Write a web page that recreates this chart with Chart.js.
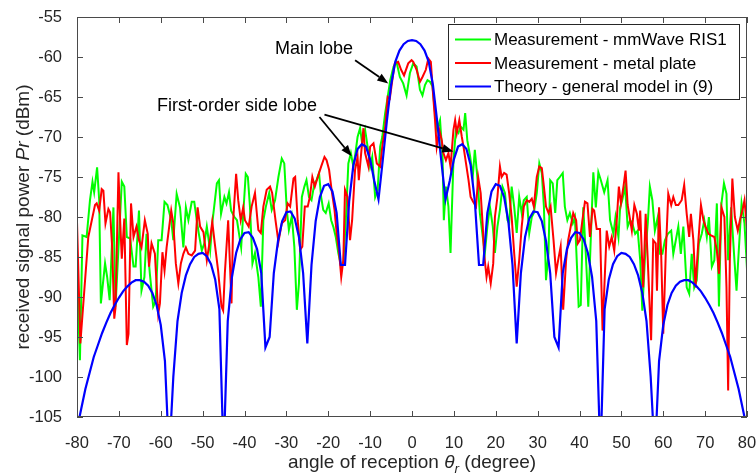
<!DOCTYPE html>
<html><head><meta charset="utf-8">
<script src="https://cdn.jsdelivr.net/npm/chart.js@4.4.0/dist/chart.umd.min.js"></script>
<style>html,body{margin:0;padding:0;background:#fff;}</style>
</head><body>
<canvas id="c" width="756" height="476" style="display:block;width:756px;height:476px"></canvas>
<script>
// ---------- DATA ----------
const seriesLabels = ['Measurement - mmWave RIS1', 'Measurement - metal plate', 'Theory - general model in (9)'];
const xTickValues = [-80,-70,-60,-50,-40,-30,-20,-10,0,10,20,30,40,50,60,70,80];
const yTickValues = [-105,-100,-95,-90,-85,-80,-75,-70,-65,-60,-55];

const ris1Angle = [-80,-79.3,-78.7,-77.7,-76.9,-76.3,-75.9,-75.2,-74.7,-74.3,-73.3,-72.8,-72.2,-71.3,-70.8,-69.3,-68.7,-68.1,-67.3,-66.5,-66.0,-65.2,-64.6,-63.9,-63.4,-62.6,-61.8,-61.2,-60.6,-59.8,-59.1,-58.4,-57.5,-57.0,-56.2,-55.4,-54.6,-54.0,-53.4,-52.6,-52.0,-51.4,-50.9,-50.2,-49.6,-49.0,-48.2,-47.7,-46.6,-46.1,-45.6,-44.8,-44.3,-43.7,-43.2,-42.4,-41.8,-40.8,-39.7,-39.2,-38.7,-38.1,-37.5,-36.7,-36.1,-35.5,-34.9,-34.1,-33.5,-32.7,-31.9,-31.1,-30.5,-29.9,-29.4,-28.7,-28.1,-27.5,-27.0,-26.3,-25.7,-25.2,-24.6,-24.0,-23.3,-22.8,-22.2,-21.7,-21.2,-20.6,-19.9,-19.3,-18.8,-18.2,-17.6,-16.9,-16.4,-15.8,-15.2,-14.6,-14.0,-13.5,-13.0,-12.4,-11.9,-11.2,-10.6,-10.0,-9.5,-8.8,-8.2,-7.6,-7.1,-6.4,-5.8,-5.2,-4.4,-3.7,-2.9,-2.1,-1.3,-0.5,0.3,1.1,1.9,2.5,3.1,3.7,4.3,4.9,5.5,6.0,6.7,7.3,7.6,8.1,8.7,9.2,9.9,10.5,11.1,11.6,12.3,12.7,13.2,13.9,14.5,15.0,15.6,16.2,16.9,17.4,18.0,18.6,19.3,19.8,20.4,21.0,21.6,22.2,22.8,23.2,23.8,24.4,25.0,25.6,26.2,26.7,27.4,28.0,28.6,29.1,29.8,30.4,31.0,31.5,32.0,32.6,33.0,33.6,34.2,34.7,35.3,36.0,36.5,37.1,37.7,38.4,38.9,39.8,40.3,40.9,41.5,42.1,42.8,43.3,43.9,44.5,45.1,45.9,46.7,47.3,48.1,48.6,49.3,49.7,50.2,50.9,51.5,52.1,52.6,53.3,53.9,54.5,55.0,55.6,56.3,56.8,57.4,58.0,58.7,59.2,59.8,60.4,61.1,61.9,62.4,63.0,63.6,64.2,64.8,65.6,66.2,66.8,67.4,68.0,68.5,69.2,69.8,70.4,70.9,71.6,72.2,72.8,73.3,73.9,74.5,75.1,75.5,76.2,77.0,77.5,77.9,78.7,79.4,80.0];
const ris1Power = [-86.9,-97.9,-82.3,-82.5,-77.9,-75.6,-76.9,-73.8,-77.9,-90.8,-85.8,-87.5,-90.4,-78.8,-91.2,-75.6,-76.2,-82.5,-82.7,-86.2,-86.2,-79.2,-89.2,-87.5,-82.1,-87.1,-91.2,-90.5,-82.9,-82.9,-78.1,-78.5,-80.4,-82.9,-77.1,-78.8,-83.8,-78.8,-80.4,-78.1,-78.1,-80.4,-82.1,-84.2,-83.3,-81.2,-84.2,-80.8,-75.8,-75.4,-79.6,-77.5,-78.3,-76.9,-79.2,-80.0,-80.4,-83.8,-74.6,-75.0,-78.7,-85.8,-84.5,-87.5,-91.2,-80.4,-78.7,-77.0,-79.1,-77.9,-75.0,-72.7,-73.3,-79.1,-81.6,-79.9,-83.7,-91.6,-88.3,-77.5,-76.2,-75.4,-77.5,-77.9,-75.8,-75.4,-74.5,-77.5,-79.1,-79.5,-78.3,-80.4,-81.2,-82.5,-84.5,-86.2,-85.8,-80.4,-73.3,-72.0,-73.7,-72.0,-70.0,-68.9,-70.8,-69.1,-71.2,-73.7,-72.5,-77.5,-76.6,-71.2,-70.0,-67.0,-65.0,-62.9,-61.2,-60.6,-62.5,-63.3,-64.8,-62.0,-60.8,-61.2,-64.1,-64.8,-63.5,-62.9,-63.1,-63.7,-67.0,-69.1,-67.9,-72.5,-80.4,-76.2,-78.7,-84.5,-72.9,-69.1,-69.5,-68.7,-69.1,-67.0,-70.4,-72.5,-75.0,-71.6,-75.0,-79.5,-82.5,-84.5,-81.2,-78.7,-81.2,-84.5,-81.2,-79.1,-76.2,-77.0,-80.4,-80.8,-76.2,-78.7,-82.0,-77.5,-79.5,-77.9,-77.5,-82.0,-80.0,-79.5,-77.0,-73.3,-74.5,-78.7,-87.9,-84.5,-75.4,-75.8,-79.5,-75.4,-75.0,-74.5,-78.7,-80.4,-79.5,-80.8,-80.0,-91.2,-91.0,-78.8,-84.6,-91.2,-81.2,-74.4,-78.8,-74.4,-75.4,-76.9,-75.4,-80.4,-82.1,-80.0,-82.5,-78.8,-77.9,-76.2,-81.2,-80.4,-80.8,-82.1,-81.7,-85.4,-91.7,-85.4,-80.8,-76.2,-77.9,-81.7,-80.0,-84.6,-84.6,-82.9,-82.1,-81.7,-84.6,-82.9,-81.2,-84.6,-81.2,-88.8,-89.6,-84.6,-88.8,-87.9,-83.3,-82.1,-80.4,-82.5,-80.0,-86.2,-85.4,-78.3,-91.2,-78.3,-75.8,-77.1,-85.4,-78.8,-85.4,-89.2,-85.4,-78.3,-80.8,-86.5];

const plateAngle = [-80,-79.2,-77.3,-75.7,-75.3,-74.7,-74.1,-73.7,-73.2,-72.5,-72.1,-71.6,-71.1,-70.8,-70.1,-69.7,-69.3,-68.7,-68.1,-67.7,-67.1,-66.5,-65.8,-65.2,-64.6,-63.8,-63.1,-62.8,-62.2,-61.4,-60.6,-60.2,-59.6,-59.1,-58.6,-57.5,-57.0,-56.4,-55.8,-55.2,-54.6,-54.0,-53.4,-52.6,-51.8,-51.2,-50.6,-49.8,-49.0,-48.2,-47.7,-47.1,-46.3,-45.5,-45.1,-44.7,-43.9,-43.1,-42.7,-42.0,-41.5,-40.9,-40.3,-39.9,-39.0,-38.3,-37.5,-36.7,-36.1,-35.5,-34.7,-33.9,-33.4,-32.6,-31.9,-31.1,-30.3,-29.7,-29.1,-28.3,-27.9,-27.3,-26.7,-26.2,-25.6,-24.9,-24.4,-23.8,-23.2,-22.5,-21.7,-20.9,-20.4,-19.8,-19.2,-18.5,-18.0,-17.4,-16.9,-16.4,-16.0,-15.4,-14.8,-14.3,-13.6,-13.0,-12.7,-12.0,-11.6,-11.2,-10.4,-10.0,-9.2,-8.4,-7.6,-7.1,-6.4,-5.8,-5.3,-4.7,-4.1,-3.3,-2.6,-1.9,-0.9,-0.1,0.3,1.1,1.9,2.5,3.3,3.9,4.5,4.9,5.5,5.9,6.5,7.1,7.5,8.1,8.7,9.2,9.9,10.3,10.7,11.3,11.9,12.3,12.9,13.5,14.0,14.6,15.3,15.8,16.4,16.9,17.2,17.8,18.2,18.8,19.4,19.8,20.4,21.0,21.4,22.0,22.6,23.2,23.8,24.4,25.0,25.6,26.2,26.7,27.4,28.0,28.6,29.1,29.8,30.4,31.0,31.5,32.0,32.6,33.1,33.8,34.4,34.9,35.5,36.1,36.8,37.3,37.9,38.5,39.2,39.6,40.1,40.7,41.3,41.9,42.5,43.1,43.5,44.1,44.9,45.5,46.0,46.5,47.1,47.7,48.3,48.9,49.4,49.9,50.5,51.0,51.5,52.1,52.5,53.1,53.7,54.2,54.5,55.2,55.8,56.3,57.1,57.6,58.2,58.5,59.0,59.5,60.0,60.6,61.2,61.9,62.4,63.0,63.6,64.4,65.0,65.6,66.2,66.6,67.2,67.7,68.4,69.0,69.6,70.1,70.8,71.4,72.2,72.8,73.3,73.9,74.6,75.1,75.5,75.9,76.5,77.1,77.8,78.3,78.9,79.4,80.0];
const platePower = [-80.6,-95.8,-82.5,-78.5,-78.3,-79.2,-76.5,-76.7,-80.8,-79.0,-79.4,-83.8,-92.7,-91.3,-74.4,-80.4,-85.2,-80.2,-96.0,-94.6,-78.3,-82.5,-81.2,-82.9,-83.8,-80.4,-82.1,-86.2,-83.3,-84.6,-92.1,-90.8,-84.4,-86.7,-83.8,-79.2,-80.8,-85.8,-88.3,-85.8,-84.6,-83.8,-84.6,-84.8,-84.2,-78.8,-81.2,-81.9,-85.4,-82.7,-80.6,-83.3,-86.7,-91.2,-91.7,-87.1,-80.4,-90.8,-80.4,-74.6,-77.9,-80.4,-78.8,-80.4,-81.2,-78.7,-77.0,-81.6,-82.0,-78.7,-76.6,-76.2,-77.0,-80.4,-83.1,-80.8,-80.4,-78.3,-78.7,-75.2,-75.0,-80.4,-84.1,-83.7,-78.7,-78.7,-77.5,-75.0,-76.2,-75.0,-73.7,-72.5,-72.9,-74.1,-76.6,-79.1,-82.0,-84.5,-87.5,-85.4,-76.6,-77.5,-82.9,-80.4,-74.1,-72.5,-75.4,-71.2,-68.9,-72.0,-73.7,-71.2,-70.8,-73.3,-73.7,-71.2,-68.7,-65.0,-65.2,-62.9,-60.8,-60.6,-61.6,-62.3,-60.8,-60.4,-60.6,-61.6,-63.1,-62.5,-61.6,-60.2,-60.6,-63.7,-67.9,-71.2,-69.1,-70.4,-72.0,-72.9,-72.0,-73.7,-69.1,-67.9,-69.5,-67.9,-70.0,-71.2,-73.3,-75.4,-77.5,-78.1,-78.7,-75.0,-77.0,-81.2,-84.5,-87.5,-86.2,-88.3,-85.8,-80.0,-77.5,-73.7,-75.0,-74.5,-74.7,-77.0,-80.0,-84.5,-88.7,-85.4,-81.2,-78.7,-77.9,-78.1,-77.7,-78.7,-75.0,-73.7,-73.9,-76.2,-78.7,-79.5,-78.7,-82.9,-87.0,-85.4,-83.7,-91.6,-85.4,-82.9,-81.2,-79.5,-80.4,-83.3,-82.9,-80.4,-78.1,-78.3,-82.5,-79.0,-79.2,-81.5,-81.5,-94.2,-87.9,-81.7,-83.7,-82.5,-84.2,-80.4,-76.2,-78.3,-76.2,-74.2,-78.5,-80.4,-81.7,-78.5,-79.6,-81.7,-79.2,-88.8,-79.6,-85.4,-95.4,-82.9,-83.3,-89.2,-78.8,-84.6,-94.6,-84.6,-77.1,-78.5,-77.5,-78.5,-78.5,-77.9,-76.0,-79.6,-82.5,-79.6,-82.9,-88.8,-82.9,-78.5,-80.4,-81.2,-82.1,-82.3,-82.5,-84.2,-87.1,-78.8,-80.0,-88.8,-101.7,-85.4,-75.2,-80.0,-81.7,-80.4,-79.2,-77.9,-81.5];

const theoryAngle = [-80,-79,-78,-77,-76,-75,-74,-73,-72,-71,-70,-69,-68,-67,-66,-65,-64,-63,-62,-61,-60,-59,-58,-57,-56,-55,-54,-53,-52,-51,-50,-49,-48,-47,-46,-45,-44,-43,-42,-41,-40,-39,-38,-37,-36,-35,-34,-33,-32,-31,-30,-29,-28,-27,-26,-25,-24,-23,-22,-21,-20,-19,-18,-17,-16,-15,-14,-13,-12,-11,-10,-9,-8,-7,-6,-5,-4,-3,-2,-1,0,1,2,3,4,5,6,7,8,9,10,11,12,13,14,15,16,17,18,19,20,21,22,23,24,25,26,27,28,29,30,31,32,33,34,35,36,37,38,39,40,41,42,43,44,45,46,47,48,49,50,51,52,53,54,55,56,57,58,59,60,61,62,63,64,65,66,67,68,69,70,71,72,73,74,75,76,77,78,79,80];
const theoryPower = [-106.5,-104,-101.5,-99.5,-97.5,-96,-94.5,-93.2,-92,-91,-90.1,-89.3,-88.7,-88.2,-87.9,-87.9,-88.1,-88.6,-89.5,-91,-93.5,-98,-110,-100,-93,-89.5,-87.3,-85.9,-85,-84.6,-84.5,-84.9,-85.9,-87.8,-91.5,-110,-93,-87.5,-84.5,-82.8,-82,-81.9,-82.6,-84,-87,-96.3,-95,-87,-83,-80.5,-79.4,-79.3,-80.2,-82.5,-87,-95.8,-86,-80.5,-77.5,-76.1,-75.9,-76.8,-79.5,-86,-86,-78,-73.5,-71.5,-70.9,-71.2,-72.8,-75.5,-77.8,-73,-68,-63.5,-60.6,-59.2,-58.4,-58.0,-57.9,-58.0,-58.4,-59.2,-60.6,-63.5,-68,-73,-77.8,-75.5,-72.8,-71.2,-70.9,-71.5,-73.5,-78,-86,-86,-79.5,-76.8,-75.9,-76.1,-77.5,-80.5,-86,-95.8,-87,-82.5,-80.2,-79.3,-79.4,-80.5,-83,-87,-95,-96.3,-87,-84,-82.6,-81.9,-82,-82.8,-84.5,-87.5,-93,-110,-91.5,-87.8,-85.9,-84.9,-84.5,-84.6,-85,-85.9,-87.3,-89.5,-93,-100,-110,-98,-93.5,-91,-89.5,-88.6,-88.1,-87.9,-87.9,-88.2,-88.7,-89.3,-90.1,-91,-92,-93.2,-94.5,-96,-97.5,-99.5,-101.5,-104,-106.5];

// ---------- STYLE ----------
const FONT = '"Liberation Sans", Arial, Helvetica, sans-serif';
const TXT = '#262626';
const colors = ['#00ff00', '#ff0000', '#0000ff'];

function pts(xs, ys){ const n = Math.min(xs.length, ys.length); const out=[]; for(let i=0;i<n;i++) out.push({x:xs[i], y:ys[i]}); return out; }

const decor = {
  id: 'decor',
  afterDraw(chart){
    const {ctx, chartArea:a, scales:{x, y}} = chart;
    ctx.save();
    // axes box
    ctx.strokeStyle = '#4a4a4a'; ctx.lineWidth = 1;
    ctx.strokeRect(a.left + 0.5, a.top + 0.5, a.right - a.left - 1, a.bottom - a.top - 1);
    // inward ticks on all four sides
    ctx.beginPath();
    xTickValues.forEach(v => {
      const px = Math.round(x.getPixelForValue(v)) + 0.5;
      ctx.moveTo(px, a.bottom); ctx.lineTo(px, a.bottom - 6);
      ctx.moveTo(px, a.top); ctx.lineTo(px, a.top + 6);
    });
    yTickValues.forEach(v => {
      const py = Math.round(y.getPixelForValue(v)) + 0.5;
      ctx.moveTo(a.left, py); ctx.lineTo(a.left + 6, py);
      ctx.moveTo(a.right, py); ctx.lineTo(a.right - 6, py);
    });
    ctx.stroke();

    // annotations (data coordinates)
    const arrow = (x1, y1, x2, y2) => {
      const X1 = x.getPixelForValue(x1), Y1 = y.getPixelForValue(y1);
      const X2 = x.getPixelForValue(x2), Y2 = y.getPixelForValue(y2);
      const ang = Math.atan2(Y2 - Y1, X2 - X1);
      const L = 11, W = 4.2;
      const bx = X2 - L * Math.cos(ang), by = Y2 - L * Math.sin(ang);
      ctx.strokeStyle = '#000'; ctx.lineWidth = 1.8;
      ctx.beginPath(); ctx.moveTo(X1, Y1); ctx.lineTo(bx, by); ctx.stroke();
      ctx.fillStyle = '#000';
      ctx.beginPath();
      ctx.moveTo(X2, Y2);
      ctx.lineTo(bx + W * Math.sin(ang), by - W * Math.cos(ang));
      ctx.lineTo(bx - W * Math.sin(ang), by + W * Math.cos(ang));
      ctx.closePath(); ctx.fill();
    };
    ctx.font = '18px ' + FONT; ctx.fillStyle = '#000';
    ctx.textAlign = 'center'; ctx.textBaseline = 'middle';
    ctx.fillText('Main lobe', x.getPixelForValue(-23.4), y.getPixelForValue(-59.0));
    ctx.fillText('First-order side lobe', x.getPixelForValue(-41.8), y.getPixelForValue(-66.1));
    arrow(-13.6, -60.4, -5.66, -63.3);
    arrow(-22.1, -67.5, -14.4, -72.4);
    arrow(-20.9, -67.2, 9.87, -71.8);

    // legend
    ctx.fillStyle = '#fff'; ctx.fillRect(448.5, 24.5, 291, 75);
    ctx.strokeStyle = '#262626'; ctx.lineWidth = 1;
    ctx.strokeRect(448.5, 24.5, 291, 75);
    const rows = [39.5, 63, 86.5];
    ctx.font = '17px ' + FONT; ctx.textAlign = 'left'; ctx.textBaseline = 'middle';
    chart.data.datasets.forEach((ds, i) => {
      ctx.strokeStyle = ds.borderColor; ctx.lineWidth = 2;
      ctx.beginPath(); ctx.moveTo(455, rows[i]); ctx.lineTo(491, rows[i]); ctx.stroke();
      ctx.fillStyle = '#000';
      ctx.fillText(ds.label, 494, rows[i] + 1);
    });

    // x axis title with italic theta and subscript r
    const nf = '19px ' + FONT, itf = 'italic 19px ' + FONT, sf = 'italic 13.5px ' + FONT;
    const p1 = 'angle of reception ', p2 = '\u03b8', p3 = 'r', p4 = ' (degree)';
    ctx.fillStyle = TXT; ctx.textAlign = 'left'; ctx.textBaseline = 'alphabetic';
    ctx.font = nf; const w1 = ctx.measureText(p1).width, w4 = ctx.measureText(p4).width;
    ctx.font = itf; const w2 = ctx.measureText(p2).width;
    ctx.font = sf; const w3 = ctx.measureText(p3).width;
    let cx = (a.left + a.right) / 2 - (w1 + w2 + w3 + w4) / 2;
    const by = 468;
    ctx.font = nf; ctx.fillText(p1, cx, by); cx += w1;
    ctx.font = itf; ctx.fillText(p2, cx, by); cx += w2;
    ctx.font = sf; ctx.fillText(p3, cx, by + 5); cx += w3;
    ctx.font = nf; ctx.fillText(p4, cx, by);

    // y axis title with italic Pr
    const q1 = 'received signal power ', q2 = 'Pr', q3 = ' (dBm)';
    ctx.font = nf; const v1 = ctx.measureText(q1).width, v3 = ctx.measureText(q3).width;
    ctx.font = itf; const v2 = ctx.measureText(q2).width;
    ctx.translate(29, (a.top + a.bottom) / 2);
    ctx.rotate(-Math.PI / 2);
    let cy = -(v1 + v2 + v3) / 2;
    ctx.font = nf; ctx.fillText(q1, cy, 0); cy += v1;
    ctx.font = itf; ctx.fillText(q2, cy, 0); cy += v2;
    ctx.font = nf; ctx.fillText(q3, cy, 0);
    ctx.restore();
  }
};

new Chart(document.getElementById('c'), {
  type: 'line',
  data: {
    datasets: [
      { label: seriesLabels[0], data: pts(ris1Angle, ris1Power), borderColor: colors[0], borderWidth: 2, pointRadius: 0, tension: 0, fill: false, order: 3, clip: 0 },
      { label: seriesLabels[1], data: pts(plateAngle, platePower), borderColor: colors[1], borderWidth: 2, pointRadius: 0, tension: 0, fill: false, order: 2, clip: 0 },
      { label: seriesLabels[2], data: pts(theoryAngle, theoryPower), borderColor: colors[2], borderWidth: 2.2, pointRadius: 0, tension: 0, fill: false, order: 1, clip: 0 }
    ]
  },
  options: {
    responsive: false, animation: false, devicePixelRatio: 1,
    layout: { padding: { left: 0, right: 9, top: 17, bottom: 0 } },
    plugins: { legend: { display: false }, tooltip: { enabled: false } },
    scales: {
      x: {
        type: 'linear', min: -80, max: 80,
        ticks: { stepSize: 10, autoSkip: false, maxRotation: 0, padding: 9, color: TXT, font: { family: FONT, size: 16.5 } },
        grid: { display: false }, border: { display: false },
        afterFit(s){ s.height = 59; s.paddingLeft = 0; s.paddingRight = 0; }
      },
      y: {
        type: 'linear', min: -105, max: -55,
        ticks: { stepSize: 5, autoSkip: false, padding: 7, color: TXT, font: { family: FONT, size: 16.5 } },
        grid: { display: false }, border: { display: false },
        afterFit(s){ s.width = 77; s.paddingTop = 0; s.paddingBottom = 0; }
      }
    }
  },
  plugins: [decor]
});
</script>
</body></html>
